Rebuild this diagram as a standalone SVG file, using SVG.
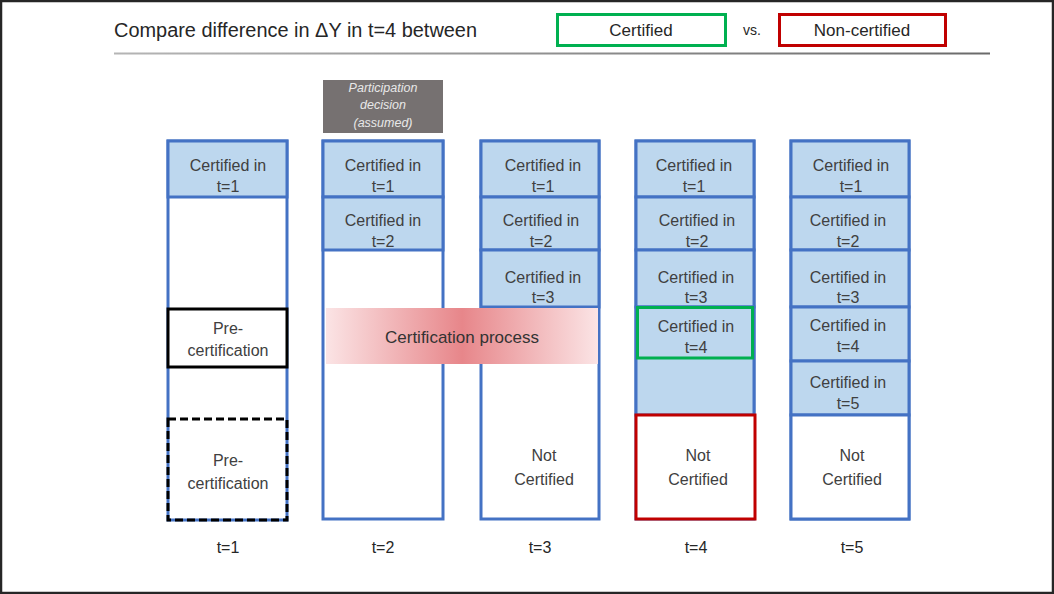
<svg xmlns="http://www.w3.org/2000/svg" width="1054" height="594" viewBox="0 0 1054 594">
<style>
text{font-family:"Liberation Sans",Arial,sans-serif;fill:#404040;text-anchor:middle}
.t{font-size:16px}
.b{font-size:16px;fill:#262626}
.col{fill:#fff;stroke:#4472C4;stroke-width:3}
.cert{fill:#BDD7EE;stroke:#4472C4;stroke-width:3}
.pre{fill:#fff;stroke:#000;stroke-width:3}
.dash{fill:none;stroke:#000;stroke-width:3;stroke-dasharray:8 4}
.pd{font-size:12.5px;font-style:italic;fill:#e8e8e8}
</style>
<defs>
<linearGradient id="band" x1="0" y1="0" x2="1" y2="0">
<stop offset="0" stop-color="#fbe4e5"/>
<stop offset="0.5" stop-color="#e7868a"/>
<stop offset="1" stop-color="#fbe4e5"/>
</linearGradient>
<linearGradient id="sep" gradientUnits="userSpaceOnUse" x1="114" y1="0" x2="990" y2="0">
<stop offset="0" stop-color="#b5b5b5"/>
<stop offset="1" stop-color="#6a6a6a"/>
</linearGradient>
</defs>
<rect x="0" y="0" width="1054" height="594" fill="#fff"/>
<rect x="1" y="1" width="1052" height="592" fill="none" stroke="#262626" stroke-width="2.5"/>

<g id="header">
<text x="114" y="37" style="font-size:20px;text-anchor:start;fill:#262626" textLength="363" lengthAdjust="spacingAndGlyphs">Compare difference in ΔY in t=4 between</text>
<rect x="557.5" y="14.5" width="168" height="31" fill="#fff" stroke="#00B050" stroke-width="3"/>
<text x="641" y="36" style="font-size:17px;fill:#262626">Certified</text>
<text x="752" y="35" style="font-size:14px;fill:#262626">vs.</text>
<rect x="779.5" y="14.5" width="166" height="31" fill="#fff" stroke="#C00000" stroke-width="3"/>
<text x="862" y="36" style="font-size:17px;fill:#262626">Non-certified</text>
<rect x="114" y="52.5" width="876" height="2" fill="url(#sep)"/>
</g>

<g id="participation-decision">
<rect x="323" y="80" width="120" height="53" fill="#767171"/>
<text class="pd" x="383" y="92">Participation</text>
<text class="pd" x="383" y="109">decision</text>
<text class="pd" x="383" y="127">(assumed)</text>
</g>

<g id="col-t1">
<rect class="col" x="168" y="141" width="119" height="379"/>
<rect class="cert" x="168" y="141" width="119" height="56"/>
<text class="t" x="228" y="171">Certified in</text>
<text class="t" x="228" y="192">t=1</text>
<rect class="pre" x="168" y="309" width="119" height="58"/>
<text class="t" x="228" y="334">Pre-</text>
<text class="t" x="228" y="356">certification</text>
<rect class="dash" x="168" y="419" width="119" height="101"/>
<text class="t" x="228" y="466">Pre-</text>
<text class="t" x="228" y="489">certification</text>
<text class="b" x="228" y="553">t=1</text>
</g>

<g id="col-t2">
<rect class="col" x="323" y="141" width="120" height="378"/>
<rect class="cert" x="323" y="141" width="120" height="56"/>
<text class="t" x="383" y="171">Certified in</text>
<text class="t" x="383" y="192">t=1</text>
<rect class="cert" x="323" y="197" width="120" height="53"/>
<text class="t" x="383" y="226">Certified in</text>
<text class="t" x="383" y="247">t=2</text>
<text class="b" x="383" y="553">t=2</text>
</g>

<g id="col-t3">
<rect class="col" x="481" y="141" width="118" height="378"/>
<rect class="cert" x="481" y="141" width="118" height="56"/>
<text class="t" x="543" y="171">Certified in</text>
<text class="t" x="543" y="192">t=1</text>
<rect class="cert" x="481" y="197" width="118" height="53"/>
<text class="t" x="541" y="226">Certified in</text>
<text class="t" x="541" y="247">t=2</text>
<rect class="cert" x="481" y="250" width="118" height="57"/>
<text class="t" x="543" y="283">Certified in</text>
<text class="t" x="543" y="303">t=3</text>
<text class="t" x="544" y="461">Not</text>
<text class="t" x="544" y="485">Certified</text>
<text class="b" x="540" y="553">t=3</text>
</g>

<g id="col-t4">
<rect class="col" x="636" y="141" width="118" height="378"/>
<rect class="cert" x="636" y="141" width="118" height="56"/>
<text class="t" x="694" y="171">Certified in</text>
<text class="t" x="694" y="192">t=1</text>
<rect class="cert" x="636" y="197" width="118" height="53"/>
<text class="t" x="697" y="226">Certified in</text>
<text class="t" x="697" y="247">t=2</text>
<rect class="cert" x="636" y="250" width="118" height="57"/>
<text class="t" x="696" y="283">Certified in</text>
<text class="t" x="696" y="303">t=3</text>
<rect class="cert" x="636" y="307" width="118" height="108"/>
<rect x="637.5" y="307.5" width="115" height="50.5" fill="#BDD7EE" stroke="#00B050" stroke-width="3"/>
<text class="t" x="696" y="332">Certified in</text>
<text class="t" x="696" y="353">t=4</text>
<rect x="636" y="415" width="119" height="104" fill="#fff" stroke="#C00000" stroke-width="3"/>
<text class="t" x="698" y="461">Not</text>
<text class="t" x="698" y="485">Certified</text>
<text class="b" x="696" y="553">t=4</text>
</g>

<g id="col-t5">
<rect class="col" x="791" y="141" width="118" height="378"/>
<rect class="cert" x="791" y="141" width="118" height="56"/>
<text class="t" x="851" y="171">Certified in</text>
<text class="t" x="851" y="192">t=1</text>
<rect class="cert" x="791" y="197" width="118" height="53"/>
<text class="t" x="848" y="226">Certified in</text>
<text class="t" x="848" y="247">t=2</text>
<rect class="cert" x="791" y="250" width="118" height="57"/>
<text class="t" x="848" y="283">Certified in</text>
<text class="t" x="848" y="303">t=3</text>
<rect class="cert" x="791" y="307" width="118" height="54"/>
<text class="t" x="848" y="331">Certified in</text>
<text class="t" x="848" y="352">t=4</text>
<rect class="cert" x="791" y="361" width="118" height="54"/>
<text class="t" x="848" y="388">Certified in</text>
<text class="t" x="848" y="409">t=5</text>
<rect class="col" x="791" y="415" width="118" height="104"/>
<text class="t" x="852" y="461">Not</text>
<text class="t" x="852" y="485">Certified</text>
<text class="b" x="852" y="553">t=5</text>
</g>

<g id="certification-process">
<rect x="326" y="308" width="272" height="56" fill="url(#band)"/>
<text x="462" y="343" style="font-size:17px;fill:#333">Certification process</text>
</g>
</svg>
